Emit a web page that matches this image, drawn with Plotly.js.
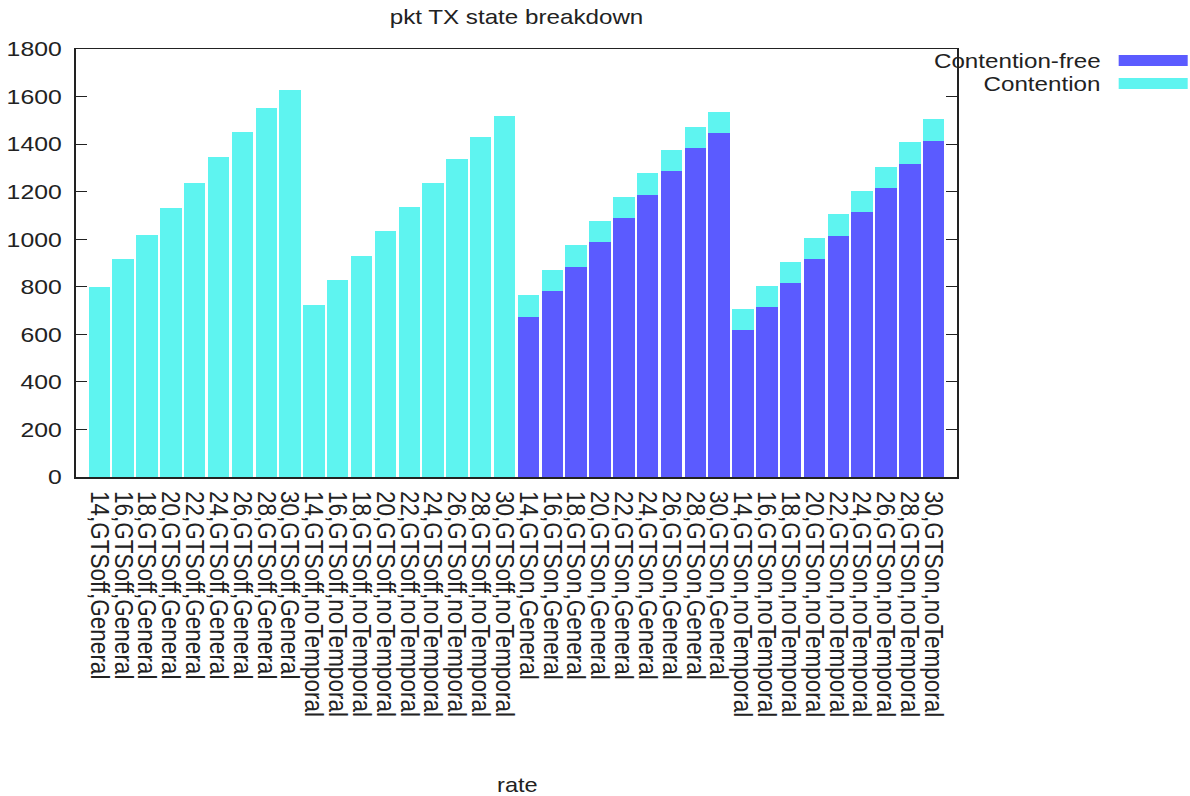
<!DOCTYPE html>
<html>
<head>
<meta charset="utf-8">
<script src="https://cdn.plot.ly/plotly-3.0.1.min.js"></script>
<style>
  html, body { margin: 0; padding: 0; background: #fff; overflow: hidden; }
  /* the figure is laid out narrower and widened horizontally, giving the broad lettering */
  #chart { width: 1008px; height: 796px; transform: scaleX(1.1806); transform-origin: 0 0; }
</style>
</head>
<body>
<div id="chart"></div>
<script>
// Rates and configurations along the x axis
const rates = [14, 16, 18, 20, 22, 24, 26, 28, 30];
const configs = ["GTSoff,General", "GTSoff,noTemporal", "GTSon,General", "GTSon,noTemporal"];

// Packets sent without contention (bottom segment)
const contentionFree = [
  0, 0, 0, 0, 0, 0, 0, 0, 0,
  0, 0, 0, 0, 0, 0, 0, 0, 0,
  674, 782, 884, 988, 1090, 1186, 1287, 1383, 1446,
  618, 715, 816, 917, 1015, 1116, 1215, 1316, 1415
];

// Packets sent under contention (stacked on top)
const contention = [
  799, 916, 1019, 1130, 1236, 1346, 1453, 1553, 1627,
  723, 828, 929, 1035, 1135, 1237, 1337, 1428, 1519,
  92, 88, 91, 90, 87, 92, 88, 87, 89,
  88, 90, 90, 88, 90, 87, 89, 91, 89
];

const seriesNames = ["Contention-free", "Contention"];
const seriesColors = ["#5b5bff", "#5ef4f0"];

const categories = [];
configs.forEach(c => rates.forEach(r => categories.push(r + "," + c)));

const FONT = "Liberation Sans, Arial, Helvetica, sans-serif";
const INK = "#222";

// plot box in layout pixels
const W = 1008, H = 796;
const L = 64.4, R = 810.6, T = 49, B = 477;
const px = x => (x - L) / (R - L);
const py = y => 1 - (y - T) / (B - T);

const traces = [contentionFree, contention].map((vals, i) => ({
  type: "bar",
  name: seriesNames[i],
  x: categories,
  y: vals,
  marker: { color: seriesColors[i], line: { width: 0 } },
  showlegend: false,
  hoverinfo: "x+y+name"
}));

// Key at the top right: right-aligned label followed by a wide swatch
const keyShapes = [];
const keyNotes = [];
seriesNames.forEach((name, i) => {
  const yc = 60.5 + i * 23;
  keyNotes.push({
    xref: "paper", yref: "paper",
    x: px(933.4), y: py(yc),
    xanchor: "right", yanchor: "middle",
    text: name, showarrow: false,
    font: { family: FONT, size: 20.5, color: INK }
  });
  keyShapes.push({
    type: "rect", xref: "paper", yref: "paper",
    x0: px(947), x1: px(1005.4),
    y0: py(yc - 5.5), y1: py(yc + 5.5),
    fillcolor: seriesColors[i], line: { width: 0 }
  });
});

// x axis title
keyNotes.push({
  xref: "paper", yref: "paper",
  x: 0.5, y: py(785),
  xanchor: "center", yanchor: "middle",
  text: "rate", showarrow: false,
  font: { family: FONT, size: 20, color: INK }
});

const layout = {
  width: W, height: H,
  margin: { l: L, r: W - R, t: T, b: H - B },
  paper_bgcolor: "#fff", plot_bgcolor: "#fff",
  barmode: "stack",
  bargap: 0.1,
  title: {
    text: "pkt TX state breakdown",
    x: (L + R) / 2 / W, xanchor: "center",
    y: 1 - 17 / H, yanchor: "middle",
    font: { family: FONT, size: 20.5, color: INK }
  },
  xaxis: {
    type: "category",
    range: [-1, 36],
    tickmode: "array",
    tickvals: categories,
    ticktext: categories,
    tickangle: 90,
    ticks: "",
    ticklabelstandoff: 8,
    showgrid: false, zeroline: false,
    showline: true, mirror: true, linecolor: INK, linewidth: 1.5,
    tickfont: { family: FONT, size: 22.5, color: INK },
    automargin: false
  },
  yaxis: {
    range: [0, 1800],
    dtick: 200,
    ticks: "inside", ticklen: 10, tickwidth: 1.2, tickcolor: INK,
    ticklabelstandoff: 6,
    showgrid: false, zeroline: false,
    showline: true, mirror: "ticks", linecolor: INK, linewidth: 1.5,
    tickfont: { family: FONT, size: 21, color: INK },
    automargin: false
  },
  shapes: keyShapes,
  annotations: keyNotes
};

Plotly.newPlot("chart", traces, layout, { displayModeBar: false, staticPlot: true });
</script>
</body>
</html>
